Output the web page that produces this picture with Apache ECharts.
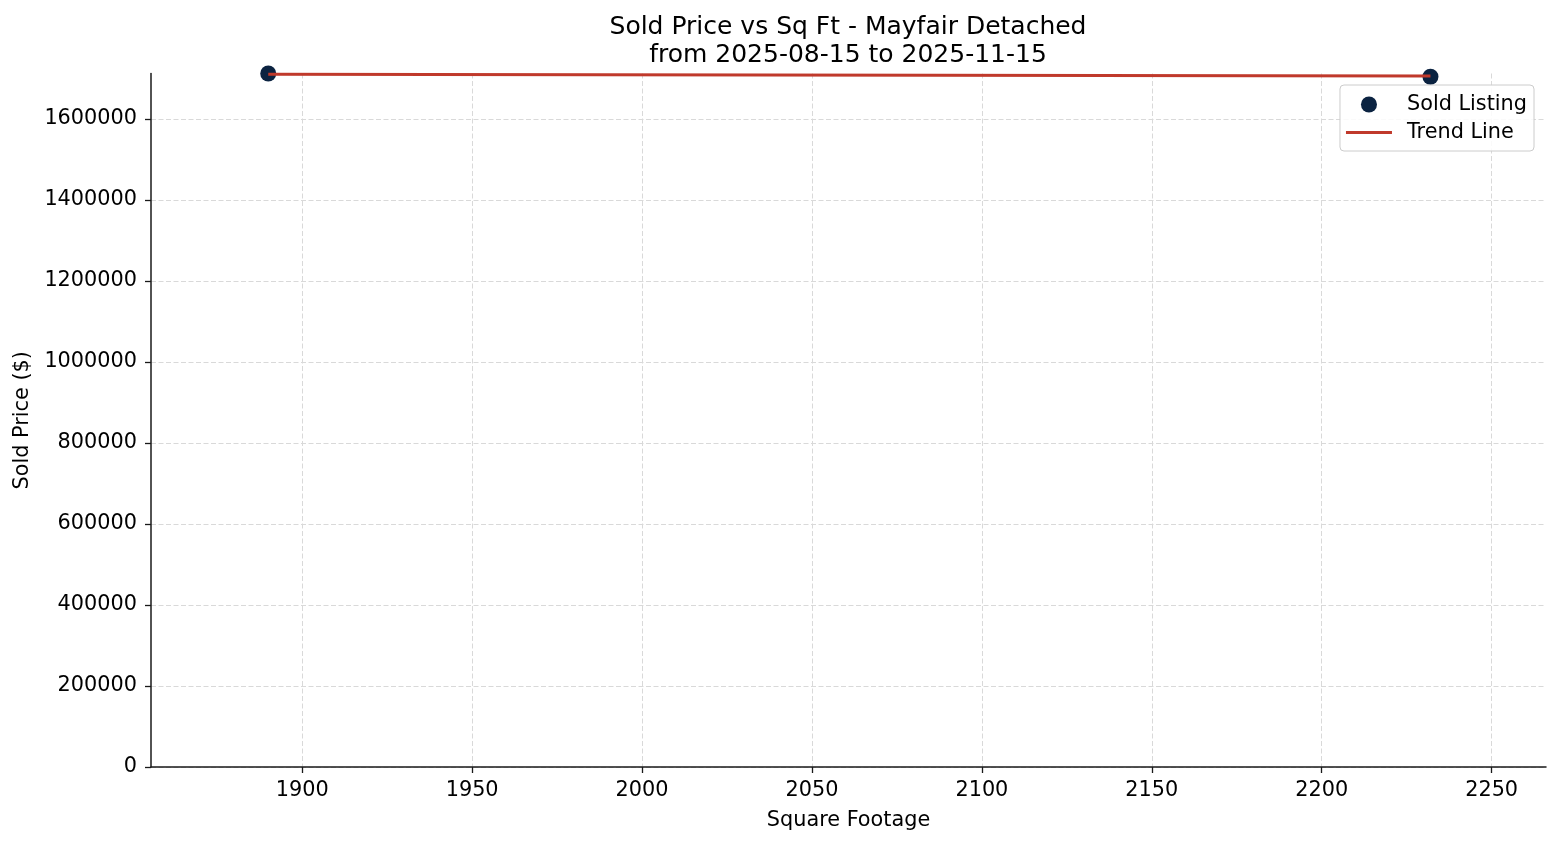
<!DOCTYPE html>
<html>
<head>
<meta charset="utf-8">
<script src="https://cdn.jsdelivr.net/npm/echarts@6/dist/echarts.min.js"></script>
<style>
html,body{margin:0;padding:0;background:#fff;}
#chart{width:1560px;height:845px;}
</style>
</head>
<body>
<div id="chart"></div>
<script>
// Data
const soldSqFt = [1890, 2232];
const soldPrice = [1712000, 1704000];
const trendSqFt = [1890, 2232];
const trendPrice = [1710000, 1706000];
const xTicks = [1900, 1950, 2000, 2050, 2100, 2150, 2200, 2250];
const yTicks = [0, 200000, 400000, 600000, 800000, 1000000, 1200000, 1400000, 1600000];
const xRange = [1855.5, 2266];
const yRange = [0, 1712000];

const FONT = 'DejaVu Sans';
const FS = 20.8;
const chart = echarts.init(document.getElementById('chart'));
const gridLine = { show: true, lineStyle: { color: '#d9d9d9', width: 1, type: [5, 2.5] } };
const axisLine = { show: true, lineStyle: { color: '#1a1a1a', width: 1.5 } };
const axisTick = { show: true, length: 6, inside: false, lineStyle: { color: '#1a1a1a', width: 1.3 } };

chart.setOption({
  backgroundColor: '#fff',
  animation: false,
  title: {
    text: 'Sold Price vs Sq Ft - Mayfair Detached\nfrom 2025-08-15 to 2025-11-15',
    left: 843,
    top: 8,
    textAlign: 'center',
    textStyle: { fontFamily: FONT, fontSize: 25, fontWeight: 'normal', color: '#000', lineHeight: 28 }
  },
  grid: { left: 151, right: 14, top: 73.5, bottom: 78, containLabel: false },
  legend: {
    orient: 'vertical',
    right: 26,
    top: 85,
    padding: [9, 7, 8, 6],
    itemGap: 7,
    itemWidth: 46,
    itemHeight: 16,
    backgroundColor: 'rgba(255,255,255,0.85)',
    borderColor: '#cccccc',
    borderWidth: 1,
    borderRadius: 4,
    textStyle: { fontFamily: FONT, fontSize: FS, color: '#000', padding: [0, 0, 0, 10] },
    data: [
      { name: 'Sold Listing', icon: 'circle' },
      { name: 'Trend Line', icon: 'path://M0,0H46V3H0Z' }
    ]
  },
  xAxis: {
    type: 'value',
    min: xRange[0],
    max: xRange[1],
    name: 'Square Footage',
    nameLocation: 'middle',
    nameGap: 43,
    nameTextStyle: { fontFamily: FONT, fontSize: FS, color: '#000' },
    axisLine: axisLine,
    axisTick: Object.assign({ customValues: xTicks }, axisTick),
    axisLabel: { customValues: xTicks, margin: 13, fontFamily: FONT, fontSize: FS, color: '#000', formatter: v => String(v) },
    splitLine: gridLine
  },
  yAxis: {
    type: 'value',
    min: yRange[0],
    max: yRange[1],
    name: 'Sold Price ($)',
    nameLocation: 'middle',
    nameGap: 117,
    nameTextStyle: { fontFamily: FONT, fontSize: FS, color: '#000' },
    axisLine: axisLine,
    axisTick: Object.assign({ customValues: yTicks }, axisTick),
    axisLabel: { customValues: yTicks, margin: 14, fontFamily: FONT, fontSize: FS, color: '#000', formatter: v => String(v) },
    splitLine: gridLine
  },
  series: [
    {
      name: 'Sold Listing',
      type: 'scatter',
      symbol: 'circle',
      symbolSize: 16,
      itemStyle: { color: '#0b2341', opacity: 1 },
      z: 2,
      data: soldSqFt.map((x, i) => [x, soldPrice[i]])
    },
    {
      name: 'Trend Line',
      type: 'line',
      symbol: 'none',
      showSymbol: false,
      lineStyle: { color: '#c0392b', width: 3 },
      itemStyle: { color: '#c0392b' },
      z: 3,
      data: trendSqFt.map((x, i) => [x, trendPrice[i]])
    }
  ]
});
</script>
</body>
</html>
